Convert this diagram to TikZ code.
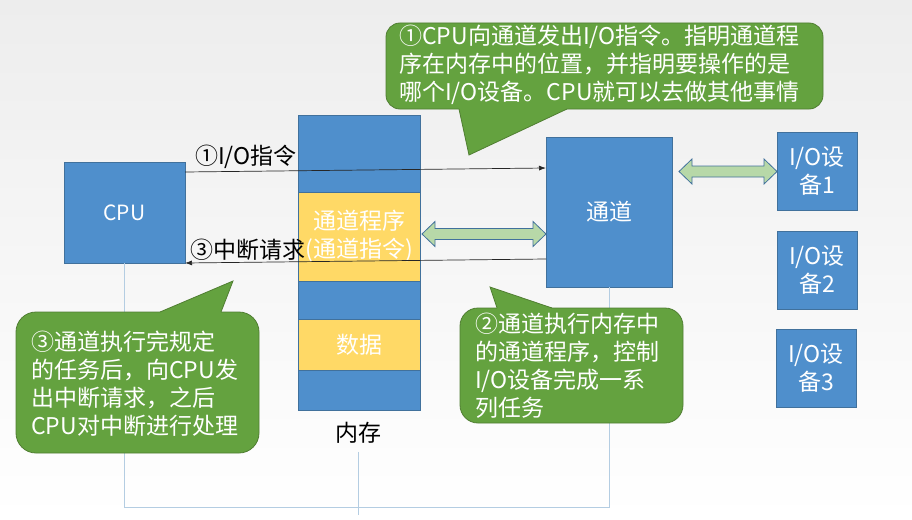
\documentclass[tikz,border=0pt]{standalone}
\usepackage{fontspec}
\setmainfont{Noto Sans CJK SC}
\usetikzlibrary{arrows.meta,calc}
\definecolor{boxblue}{HTML}{4F8FCC}
\definecolor{boxedge}{HTML}{41719C}
\definecolor{memyel}{HTML}{FFD966}
\definecolor{callg}{HTML}{64A23F}
\definecolor{calledge}{HTML}{507E32}
\definecolor{arrg}{HTML}{B7D8A8}
\definecolor{busline}{HTML}{B4CDE2}
\definecolor{bgtop}{HTML}{EDEDED}
% fat double arrow: #1 left x, #2 right x, #3 centre y
\newcommand{\fatdblarrow}[3]{%
  \draw[draw=boxedge, fill=arrg, line width=0.8pt, line join=miter]
    (#1,#3) -- ({#1+13},{#3-12.5}) -- ({#1+13},{#3-5.5}) -- ({#2-13},{#3-5.5})
    -- ({#2-13},{#3-12.5}) -- (#2,#3) -- ({#2-13},{#3+12.5}) -- ({#2-13},{#3+5.5})
    -- ({#1+13},{#3+5.5}) -- ({#1+13},{#3+12.5}) -- cycle;}
\begin{document}
\begin{tikzpicture}[x=1pt,y=-1pt,
  bluebox/.style={draw=boxedge, fill=boxblue, line width=0.8pt, inner sep=0pt, outer sep=0pt, text=white, align=center, font=\fontsize{23}{28}\selectfont},
  yelbox/.style={bluebox, fill=memyel},
  callout/.style={draw=calledge, fill=callg, line width=0.8pt, inner sep=0pt},
  ctext/.style={text=white, align=left, font=\fontsize{23}{28}\selectfont, inner sep=0pt, anchor=west},
  sig/.style={draw=black!85, line width=0.7pt, -{Latex[length=7pt,width=5pt]}},
  lbl/.style={font=\fontsize{23}{28}\selectfont, text=black, inner sep=0pt},
  bus/.style={draw=busline, line width=1pt}]
\useasboundingbox (0,0) rectangle (912,519);
\shade[top color=bgtop, bottom color=white] (0,0) rectangle (912,519);

% boxes
\node[bluebox, minimum width=121pt, minimum height=101pt, font=\fontsize{21}{26}\selectfont] (cpu) at (124.5,212.5) {CPU};
\node[bluebox, minimum width=122pt, minimum height=77pt] (m1) at (359,153.5) {};
\node[yelbox, minimum width=122pt, minimum height=89pt] (m2) at (359,236.5) {通道程序\\(通道指令)};
\node[bluebox, minimum width=122pt, minimum height=38pt] (m3) at (359,300) {};
\node[yelbox, minimum width=122pt, minimum height=51pt] (m4) at (359,344.5) {数据};
\node[bluebox, minimum width=122pt, minimum height=40pt] (m5) at (359,390) {};
\node[lbl] (memlbl) at (358,433) {内存};
\node[bluebox, minimum width=126pt, minimum height=150pt] (chan) at (609,212) {通道};
\node[bluebox, minimum width=80pt, minimum height=78pt] (io1) at (817,171) {I/O设\\备1};
\node[bluebox, minimum width=80pt, minimum height=78pt] (io2) at (817,270) {I/O设\\备2};
\node[bluebox, minimum width=80pt, minimum height=78pt] (io3) at (816,368) {I/O设\\备3};

% bus lines
\draw[bus] (cpu.south) -- (cpu.south |- 0,507) -| (chan.south);
\draw[bus] ([yshift=-8pt]memlbl.south) -- ([yshift=-8pt]memlbl.south |- 0,507);

% double arrows (memory <-> channel, channel <-> I/O device 1)
\fatdblarrow{422}{546}{234}
\fatdblarrow{679}{777}{171.5}

% signal arrows
\draw[sig] ([yshift=-10pt]cpu.north east) -- ([yshift=-31pt]chan.north west);
\draw[sig] ([yshift=-122pt]chan.north west) -- (cpu.south east);
\node[lbl] (l1) at (246,157) {①I/O指令};
\node[lbl] (l3) at (248,250) {③中断请求};

% callout 1
\node[callout, rounded corners=14pt, minimum width=437pt, minimum height=86pt] (c1) at (604.5,66) {};
\coordinate (c1tip) at (469,155);
\fill[callg] (459,105) -- (567,105) -- (567,109) -- (c1tip) -- (459,109) -- cycle;
\draw[calledge, line width=0.8pt, line join=miter] (459,109) -- (c1tip) -- (567,109);
\node[ctext] (c1t) at (399,65) {①CPU向通道发出I/O指令。指明通道程\\序在内存中的位置，并指明要操作的是\\哪个I/O设备。CPU就可以去做其他事情};

% callout 3
\node[callout, rounded corners=20pt, minimum width=243pt, minimum height=141pt] (c3) at (137.5,382.5) {};
\coordinate (c3tip) at (233,281);
\fill[callg] (160,316) -- (221,316) -- (221,312) -- (c3tip) -- (160,312) -- cycle;
\draw[calledge, line width=0.8pt] (160,312) -- (c3tip) -- (221,312);
\node[ctext] (c3t) at (31,384) {③通道执行完规定\\的任务后，向CPU发\\出中断请求，之后\\CPU对中断进行处理};

% callout 2
\node[callout, rounded corners=18pt, minimum width=223pt, minimum height=115pt] (c2) at (571.5,365.5) {};
\coordinate (c2tip) at (490,287);
\fill[callg] (497,312) -- (552,312) -- (552,308) -- (c2tip) -- (497,308) -- cycle;
\draw[calledge, line width=0.8pt] (497,308) -- (c2tip) -- (552,308);
\node[ctext] (c2t) at (475,366) {②通道执行内存中\\的通道程序，控制\\I/O设备完成一系\\列任务};
\end{tikzpicture}
\end{document}
